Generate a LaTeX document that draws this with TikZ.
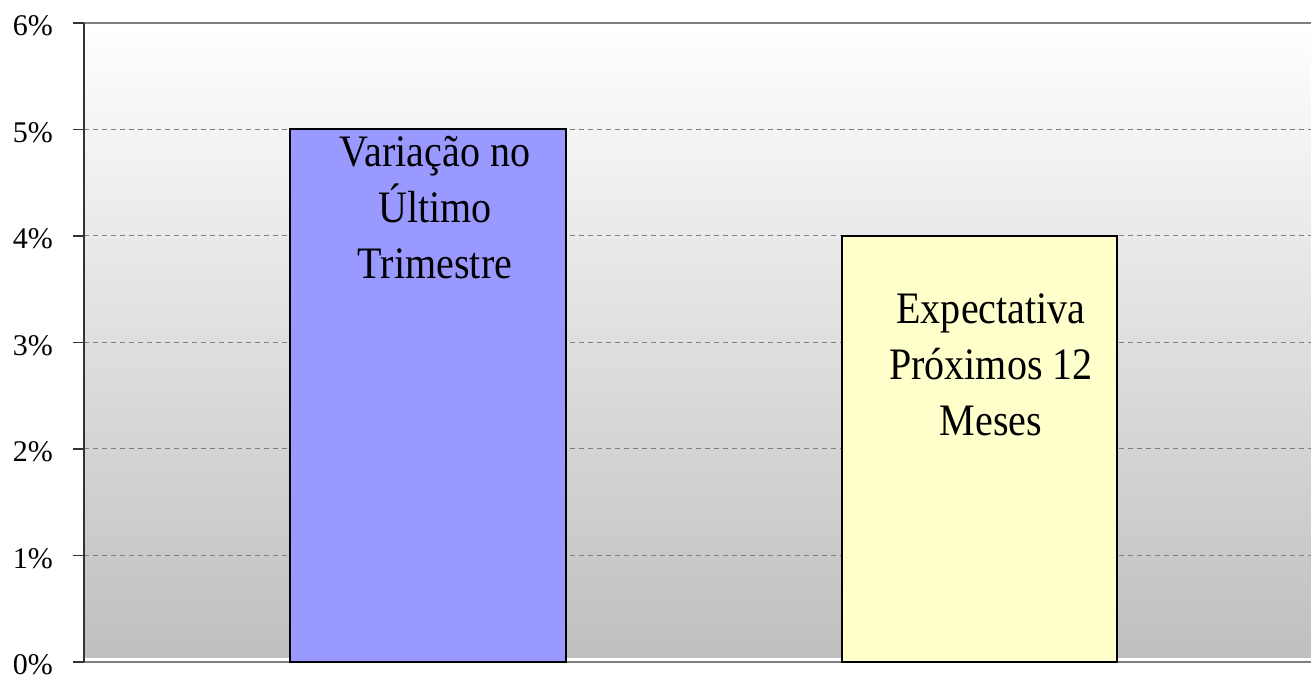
\documentclass[tikz,border=0pt]{standalone}
\usepackage{fontspec}
\setmainfont{Liberation Serif}
\newfontfamily\barfont[FakeStretch=0.89]{Liberation Serif}
\definecolor{barblue}{HTML}{9999FF}
\definecolor{baryellow}{HTML}{FFFFCC}
\definecolor{gridgray}{HTML}{808080}
\tikzset{
	gridline/.style={gridgray,line width=1pt,dash pattern=on 5pt off 4pt},
	tickmark/.style={black!80,line width=1.2pt},
	ticklabel/.style={anchor=east,inner sep=0pt,font=\fontsize{30}{36}\selectfont},
	barbox/.style={draw=black,line width=2pt},
	barlabel/.style={align=center,inner sep=0pt,font=\barfont\fontsize{45}{56}\selectfont}
}

\def\plotarea{
	\shade[top color=white,bottom color=gray!50] (84,21) rectangle (1311,656);
	\draw[gridline] (84,123.5) -- (1311,123.5);
	\draw[gridline] (84,230) -- (1311,230);
	\draw[gridline] (84,336.5) -- (1311,336.5);
	\draw[gridline] (84,443) -- (1311,443);
	\draw[gridline] (84,549.5) -- (1311,549.5);
	\draw[gridgray,line width=2pt] (84,656) -- (1311,656);
	\draw[gridgray,line width=2pt] (84,17) -- (1311,17);
}
\def\yaxis{
	\draw[tickmark] (84,17) -- (84,656);
	\draw[tickmark] (73,17) -- (84,17);
	\draw[tickmark] (73,123.5) -- (84,123.5);
	\draw[tickmark] (73,230) -- (84,230);
	\draw[tickmark] (73,336.5) -- (84,336.5);
	\draw[tickmark] (73,443) -- (84,443);
	\draw[tickmark] (73,549.5) -- (84,549.5);
	\draw[tickmark] (73,656) -- (84,656);
	\path (53,14) node(Tick0) [ticklabel] {0\%}
			(53,120.5) node(Tick1) [ticklabel] {1\%}
			(53,227) node(Tick2) [ticklabel] {2\%}
			(53,333.5) node(Tick3) [ticklabel] {3\%}
			(53,440) node(Tick4) [ticklabel] {4\%}
			(53,546.5) node(Tick5) [ticklabel] {5\%}
			(53,653) node(Tick6) [ticklabel] {6\%};
}
\def\bars{
	\draw[barbox,fill=barblue] (290,17) rectangle (566,549.5);
	\draw[barbox,fill=baryellow] (842,17) rectangle (1117,443);
	\path (435,471) node(LabelTrimestre) [barlabel] {Variação no\\Último\\Trimestre}
			(991,314) node(LabelMeses) [barlabel] {Expectativa\\Próximos 12\\Meses};
}

\begin{document}
\begin{tikzpicture}[x=1pt,y=1pt]
\useasboundingbox (0,0) rectangle (1311,679);
\plotarea
\yaxis
\bars
\end{tikzpicture}
\end{document}
